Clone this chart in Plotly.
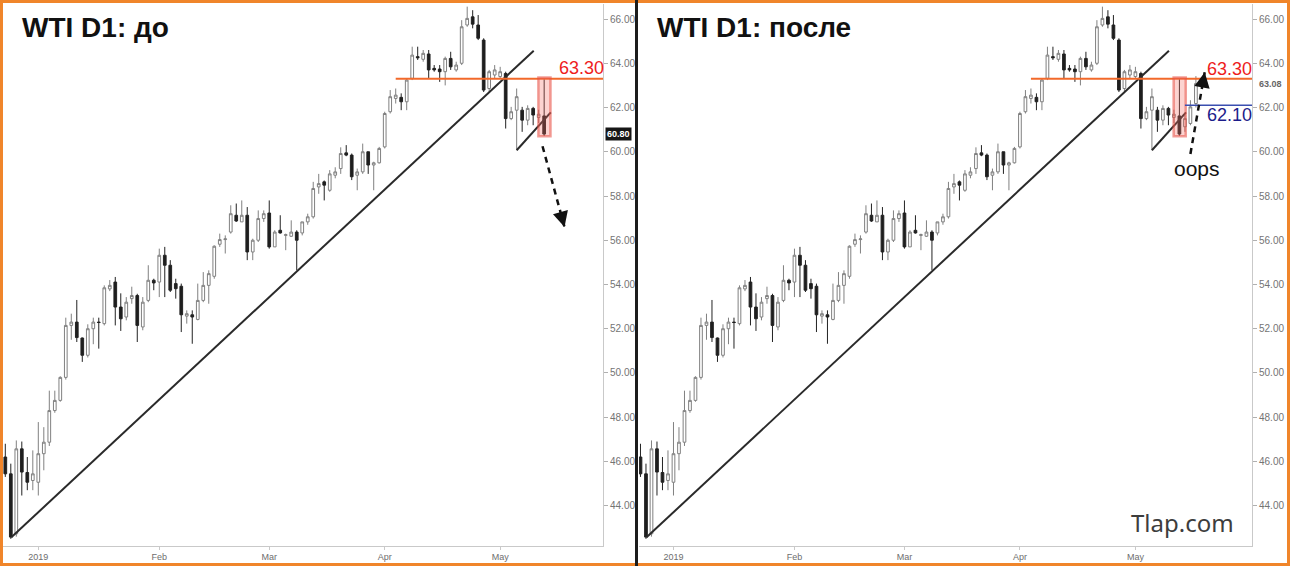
import plotly.graph_objects as go

# ---------------- data ----------------
dates = [
    "2018-12-21", "2018-12-24", "2018-12-26", "2018-12-27", "2018-12-28", "2018-12-31",
    "2019-01-02", "2019-01-03", "2019-01-04", "2019-01-07", "2019-01-08", "2019-01-09",
    "2019-01-10", "2019-01-11", "2019-01-14", "2019-01-15", "2019-01-16", "2019-01-17",
    "2019-01-18", "2019-01-21", "2019-01-22", "2019-01-23", "2019-01-24", "2019-01-25",
    "2019-01-28", "2019-01-29", "2019-01-30", "2019-01-31", "2019-02-01", "2019-02-04",
    "2019-02-05", "2019-02-06", "2019-02-07", "2019-02-08", "2019-02-11", "2019-02-12",
    "2019-02-13", "2019-02-14", "2019-02-15", "2019-02-18", "2019-02-19", "2019-02-20",
    "2019-02-21", "2019-02-22", "2019-02-25", "2019-02-26", "2019-02-27", "2019-02-28",
    "2019-03-01", "2019-03-04", "2019-03-05", "2019-03-06", "2019-03-07", "2019-03-08",
    "2019-03-11", "2019-03-12", "2019-03-13", "2019-03-14", "2019-03-15", "2019-03-18",
    "2019-03-19", "2019-03-20", "2019-03-21", "2019-03-22", "2019-03-25", "2019-03-26",
    "2019-03-27", "2019-03-28", "2019-03-29", "2019-04-01", "2019-04-02", "2019-04-03",
    "2019-04-04", "2019-04-05", "2019-04-08", "2019-04-09", "2019-04-10", "2019-04-11",
    "2019-04-12", "2019-04-15", "2019-04-16", "2019-04-17", "2019-04-18", "2019-04-22",
    "2019-04-23", "2019-04-24", "2019-04-25", "2019-04-26", "2019-04-29", "2019-04-30",
    "2019-05-01", "2019-05-02", "2019-05-03", "2019-05-06", "2019-05-07", "2019-05-08",
    "2019-05-09", "2019-05-10", "2019-05-13", "2019-05-14", "2019-05-15", "2019-05-16",
]

opens = [
    46.20, 45.44, 42.73, 46.57, 45.50, 45.14, 45.06, 46.35, 46.87, 48.30,
    48.76, 49.80, 52.15, 52.30, 51.58, 50.80, 52.00, 52.30, 52.23, 53.80,
    54.11, 52.98, 52.53, 53.36, 53.50, 52.08, 53.28, 54.19, 54.11, 55.32,
    54.87, 54.04, 53.92, 52.57, 52.63, 52.42, 53.28, 53.96, 54.37, 55.82,
    56.03, 56.37, 57.13, 56.83, 57.13, 55.47, 56.00, 56.98, 57.23, 55.70,
    56.45, 56.22, 56.18, 56.37, 56.33, 56.83, 57.06, 58.41, 58.64, 58.26,
    58.94, 59.24, 59.95, 59.85, 58.94, 59.09, 60.00, 59.40, 59.50, 60.22,
    61.81, 62.41, 62.46, 62.26, 63.32, 64.30, 64.18, 64.42, 63.77, 63.74,
    63.62, 64.22, 63.70, 64.00, 65.73, 66.10, 65.73, 65.05, 62.86, 63.47,
    63.40, 63.54, 61.50, 61.88, 61.88, 61.43, 61.96, 61.55, 61.62, 61.13,
    61.28, 62.18,
]
highs = [
    46.80, 45.90, 46.95, 46.90, 46.20, 46.50, 47.78, 47.55, 49.20, 49.20,
    49.85, 52.50, 52.68, 53.30, 51.60, 52.20, 52.50, 52.50, 53.96, 54.20,
    54.34, 53.60, 53.43, 53.90, 53.58, 53.43, 54.87, 54.26, 55.62, 55.70,
    55.10, 54.26, 54.04, 52.83, 52.83, 54.04, 54.56, 54.64, 55.77, 56.30,
    56.22, 57.58, 57.66, 57.80, 57.50, 56.07, 57.35, 57.35, 57.80, 56.45,
    57.13, 56.30, 56.90, 56.45, 56.83, 57.20, 58.64, 59.00, 58.70, 59.17,
    59.30, 60.20, 60.30, 59.92, 59.24, 60.37, 60.00, 59.55, 60.22, 61.81,
    62.79, 62.86, 62.64, 63.32, 64.75, 64.75, 64.60, 64.60, 63.92, 63.92,
    64.30, 64.52, 64.07, 65.95, 66.56, 66.40, 66.18, 65.13, 63.70, 63.92,
    63.84, 63.62, 62.03, 62.86, 62.03, 62.10, 62.03, 61.90, 63.30, 61.73,
    62.33, 63.42,
]
lows = [
    45.30, 42.50, 42.60, 44.46, 44.70, 44.70, 44.46, 45.60, 46.70, 48.20,
    48.70, 49.70, 51.50, 51.40, 50.50, 50.70, 51.30, 51.10, 52.15, 53.70,
    52.15, 51.90, 52.38, 53.13, 51.40, 51.93, 53.20, 53.74, 53.43, 53.43,
    53.66, 53.36, 51.85, 52.23, 51.32, 52.38, 53.20, 53.13, 54.26, 55.70,
    55.40, 56.30, 56.83, 56.83, 55.10, 55.10, 55.92, 56.83, 55.62, 55.70,
    56.30, 55.55, 56.15, 54.64, 56.22, 56.70, 56.98, 58.10, 57.80, 58.19,
    58.80, 59.00, 59.80, 58.72, 58.26, 59.00, 59.00, 58.26, 59.47, 60.15,
    61.73, 62.18, 61.88, 61.88, 63.24, 64.15, 64.07, 63.32, 63.62, 63.16,
    63.00, 63.70, 63.62, 63.92, 65.65, 65.58, 65.05, 62.70, 62.70, 63.32,
    63.32, 61.05, 61.43, 60.07, 60.90, 61.20, 61.20, 61.30, 60.72, 60.90,
    61.20, 62.00,
]
closes = [
    45.44, 42.58, 46.57, 45.52, 45.06, 45.44, 46.35, 46.87, 48.30, 48.76,
    49.80, 52.15, 52.30, 51.60, 50.80, 52.00, 52.30, 52.28, 53.85, 53.96,
    52.98, 52.45, 53.20, 53.50, 52.15, 53.20, 54.19, 54.07, 55.32, 54.87,
    53.74, 53.81, 52.63, 52.68, 52.53, 53.28, 53.96, 54.49, 55.73, 56.03,
    56.06, 57.20, 56.87, 57.13, 55.47, 56.00, 56.98, 57.20, 55.70, 56.37,
    56.33, 56.25, 56.37, 56.00, 56.83, 57.06, 58.34, 58.56, 58.49, 59.00,
    59.09, 59.92, 59.85, 58.87, 59.09, 60.00, 59.40, 59.50, 60.15, 61.73,
    62.49, 62.56, 62.26, 63.24, 64.37, 64.25, 64.45, 63.70, 63.70, 63.62,
    64.22, 63.84, 63.92, 65.65, 66.03, 65.77, 65.13, 62.79, 63.62, 63.70,
    63.62, 61.50, 61.81, 62.49, 61.43, 61.96, 61.66, 61.70, 60.80, 61.50,
    62.03, 63.08,
]

last_date_before = "2019-05-13"          # left panel ("до") ends here
month_ticks = ["2019-01-02", "2019-02-01", "2019-03-01", "2019-04-01", "2019-05-01"]
month_labels = ["2019", "Feb", "Mar", "Apr", "May"]
price_ticks = [44, 46, 48, 50, 52, 54, 56, 58, 60, 62, 64, 66]

resistance = 63.30
support_after = 62.10
last_price_before = 60.80
last_price_after = 63.08

# drawn analysis objects (bar index, price)
trend_pts = ([1.1, 96.1], [42.57, 64.57])
channel_pts = ([93.0, 99.2], [60.07, 61.78])
box_pts = ([96.95, 99.15], [60.70, 63.36])
res_start = 71.0
sup_start = 99.0
arrow_down = ([97.7, 101.7], [60.25, 56.6])
arrow_up = ([100.0, 102.6], [59.9, 63.6])

# ---------------- figure ----------------
W, H = 1290, 566


def px(x):
    return x / W


def py(y):
    return 1 - y / H


n_before = dates.index(last_date_before) + 1
xs = list(range(len(dates)))
tickvals = [dates.index(d) for d in month_ticks]

inc = dict(line=dict(color="#808080", width=1), fillcolor="#ffffff")
dec = dict(line=dict(color="#222222", width=1), fillcolor="#1e1e1e")

fig = go.Figure()
fig.add_trace(go.Candlestick(
    x=xs[:n_before], open=opens[:n_before], high=highs[:n_before],
    low=lows[:n_before], close=closes[:n_before],
    increasing=inc, decreasing=dec, whiskerwidth=0,
    xaxis="x", yaxis="y", showlegend=False, hoverinfo="skip"))
fig.add_trace(go.Candlestick(
    x=xs, open=opens, high=highs, low=lows, close=closes,
    increasing=inc, decreasing=dec, whiskerwidth=0,
    xaxis="x2", yaxis="y2", showlegend=False, hoverinfo="skip"))

XR1 = [-0.42, 108.7]
XR2 = [-0.27, 111.2]
YR = [42.2, 66.68]

xcommon = dict(showgrid=False, zeroline=False, showline=True, linecolor="#c9c9c9",
               linewidth=1, ticks="outside", ticklen=3, tickcolor="#c9c9c9",
               tickvals=tickvals, ticktext=month_labels,
               tickfont=dict(family="Liberation Sans, Arial", size=9, color="#6e6e6e"),
               rangeslider=dict(visible=False), fixedrange=True)
ycommon = dict(showgrid=False, zeroline=False, showline=True, linecolor="#c9c9c9",
               linewidth=1, ticks="outside", ticklen=4, tickcolor="#b0b0b0",
               side="right", range=YR, tickvals=price_ticks,
               ticktext=["%.2f" % v for v in price_ticks],
               tickfont=dict(family="Liberation Sans, Arial", size=10, color="#747474"),
               domain=[py(545.5), py(4)], fixedrange=True)

fig.update_layout(
    width=W, height=H, margin=dict(l=0, r=0, t=0, b=0),
    paper_bgcolor="white", plot_bgcolor="white",
    xaxis=dict(domain=[px(3), px(603)], range=XR1, anchor="y", **xcommon),
    yaxis=dict(anchor="x", **ycommon),
    xaxis2=dict(domain=[px(639), px(1252)], range=XR2, anchor="y2", **xcommon),
    yaxis2=dict(anchor="x2", **ycommon),
)

shapes = []
# frame and separator
shapes.append(dict(type="rect", xref="paper", yref="paper", x0=px(1.5), x1=px(1288.5),
                   y0=py(564.5), y1=py(1.5), line=dict(color="#f0852a", width=3)))
shapes.append(dict(type="line", xref="paper", yref="paper", x0=px(636.5), x1=px(636.5),
                   y0=0, y1=1, line=dict(color="#1c1c1c", width=3)))

for xr, yr, xe in (("x", "y", XR1[1]), ("x2", "y2", XR2[1])):
    shapes.append(dict(type="line", xref=xr, yref=yr, x0=trend_pts[0][0], x1=trend_pts[0][1],
                       y0=trend_pts[1][0], y1=trend_pts[1][1],
                       line=dict(color="#2a2a2a", width=2)))
    shapes.append(dict(type="line", xref=xr, yref=yr, x0=channel_pts[0][0], x1=channel_pts[0][1],
                       y0=channel_pts[1][0], y1=channel_pts[1][1],
                       line=dict(color="#2a2a2a", width=2)))
    shapes.append(dict(type="line", xref=xr, yref=yr, x0=res_start, x1=xe,
                       y0=resistance, y1=resistance, line=dict(color="#f2692a", width=2)))
    shapes.append(dict(type="rect", xref=xr, yref=yr, x0=box_pts[0][0], x1=box_pts[0][1],
                       y0=box_pts[1][0], y1=box_pts[1][1],
                       fillcolor="rgba(245,110,100,0.30)",
                       line=dict(color="rgba(232,80,70,0.55)", width=2.5)))

shapes.append(dict(type="line", xref="x2", yref="y2", x0=sup_start, x1=XR2[1],
                   y0=support_after, y1=support_after, line=dict(color="#3b4fb0", width=1.5)))

# dashed arrows
shapes.append(dict(type="line", xref="x", yref="y", x0=arrow_down[0][0], x1=arrow_down[0][1],
                   y0=arrow_down[1][0], y1=arrow_down[1][1],
                   line=dict(color="#111111", width=2.5, dash="6px,5px")))
shapes.append(dict(type="line", xref="x2", yref="y2", x0=arrow_up[0][0], x1=arrow_up[0][1],
                   y0=arrow_up[1][0], y1=arrow_up[1][1],
                   line=dict(color="#111111", width=2.5, dash="6px,5px")))

fig.update_layout(shapes=shapes)

ann = []
title_font = dict(family="Liberation Sans, Arial", size=28, color="#111111")
ann.append(dict(xref="paper", yref="paper", x=px(20), y=py(27), xanchor="left", yanchor="middle",
                text="<b>WTI D1: до</b>", showarrow=False, font=title_font))
ann.append(dict(xref="paper", yref="paper", x=px(655), y=py(27), xanchor="left", yanchor="middle",
                text="<b>WTI D1: после</b>", showarrow=False, font=title_font))

lab_font_red = dict(family="Liberation Sans, Arial", size=18, color="#ee1c1c")
ann.append(dict(xref="paper", yref="paper", x=px(581), y=py(68), xanchor="center",
                yanchor="middle", text="63.30", showarrow=False, font=lab_font_red))
ann.append(dict(xref="paper", yref="paper", x=px(1229.5), y=py(69), xanchor="center",
                yanchor="middle", text="63.30", showarrow=False, font=lab_font_red))
ann.append(dict(xref="paper", yref="paper", x=px(1229.5), y=py(115), xanchor="center",
                yanchor="middle", text="62.10", showarrow=False,
                font=dict(family="Liberation Sans, Arial", size=18, color="#1c1c8a")))
ann.append(dict(xref="paper", yref="paper", x=px(1197), y=py(168), xanchor="center",
                yanchor="middle", text="oops", showarrow=False,
                font=dict(family="Liberation Sans, Arial", size=21, color="#111111")))
ann.append(dict(xref="paper", yref="paper", x=px(1129), y=py(522), xanchor="left",
                yanchor="middle", text="Tlap.com", showarrow=False,
                font=dict(family="Noto Sans, DejaVu Sans", size=24, color="#3d3d3d")))

# last-price tags on the price axes
ann.append(dict(xref="paper", yref="y", x=px(605), y=last_price_before, xanchor="left",
                yanchor="middle", text="<b>60.80</b>", showarrow=False, bgcolor="#161616",
                borderpad=1, font=dict(family="Liberation Sans, Arial", size=9, color="white")))
ann.append(dict(xref="paper", yref="y2", x=px(1257), y=last_price_after, xanchor="left",
                yanchor="middle", text="<b>63.08</b>", showarrow=False,
                font=dict(family="Liberation Sans, Arial", size=9, color="#666666")))

# arrow heads
for xr, yr, pts in (("x", "y", arrow_down), ("x2", "y2", arrow_up)):
    (x0, x1), (y0, y1) = pts
    ann.append(dict(xref=xr, yref=yr, axref=xr, ayref=yr, x=x1, y=y1,
                    ax=x1 - (x1 - x0) * 0.12, ay=y1 - (y1 - y0) * 0.12,
                    text="", showarrow=True, arrowhead=2, arrowsize=1.4,
                    arrowwidth=2.2, arrowcolor="#111111"))

fig.update_layout(annotations=ann)

fig.write_html("out.html")
